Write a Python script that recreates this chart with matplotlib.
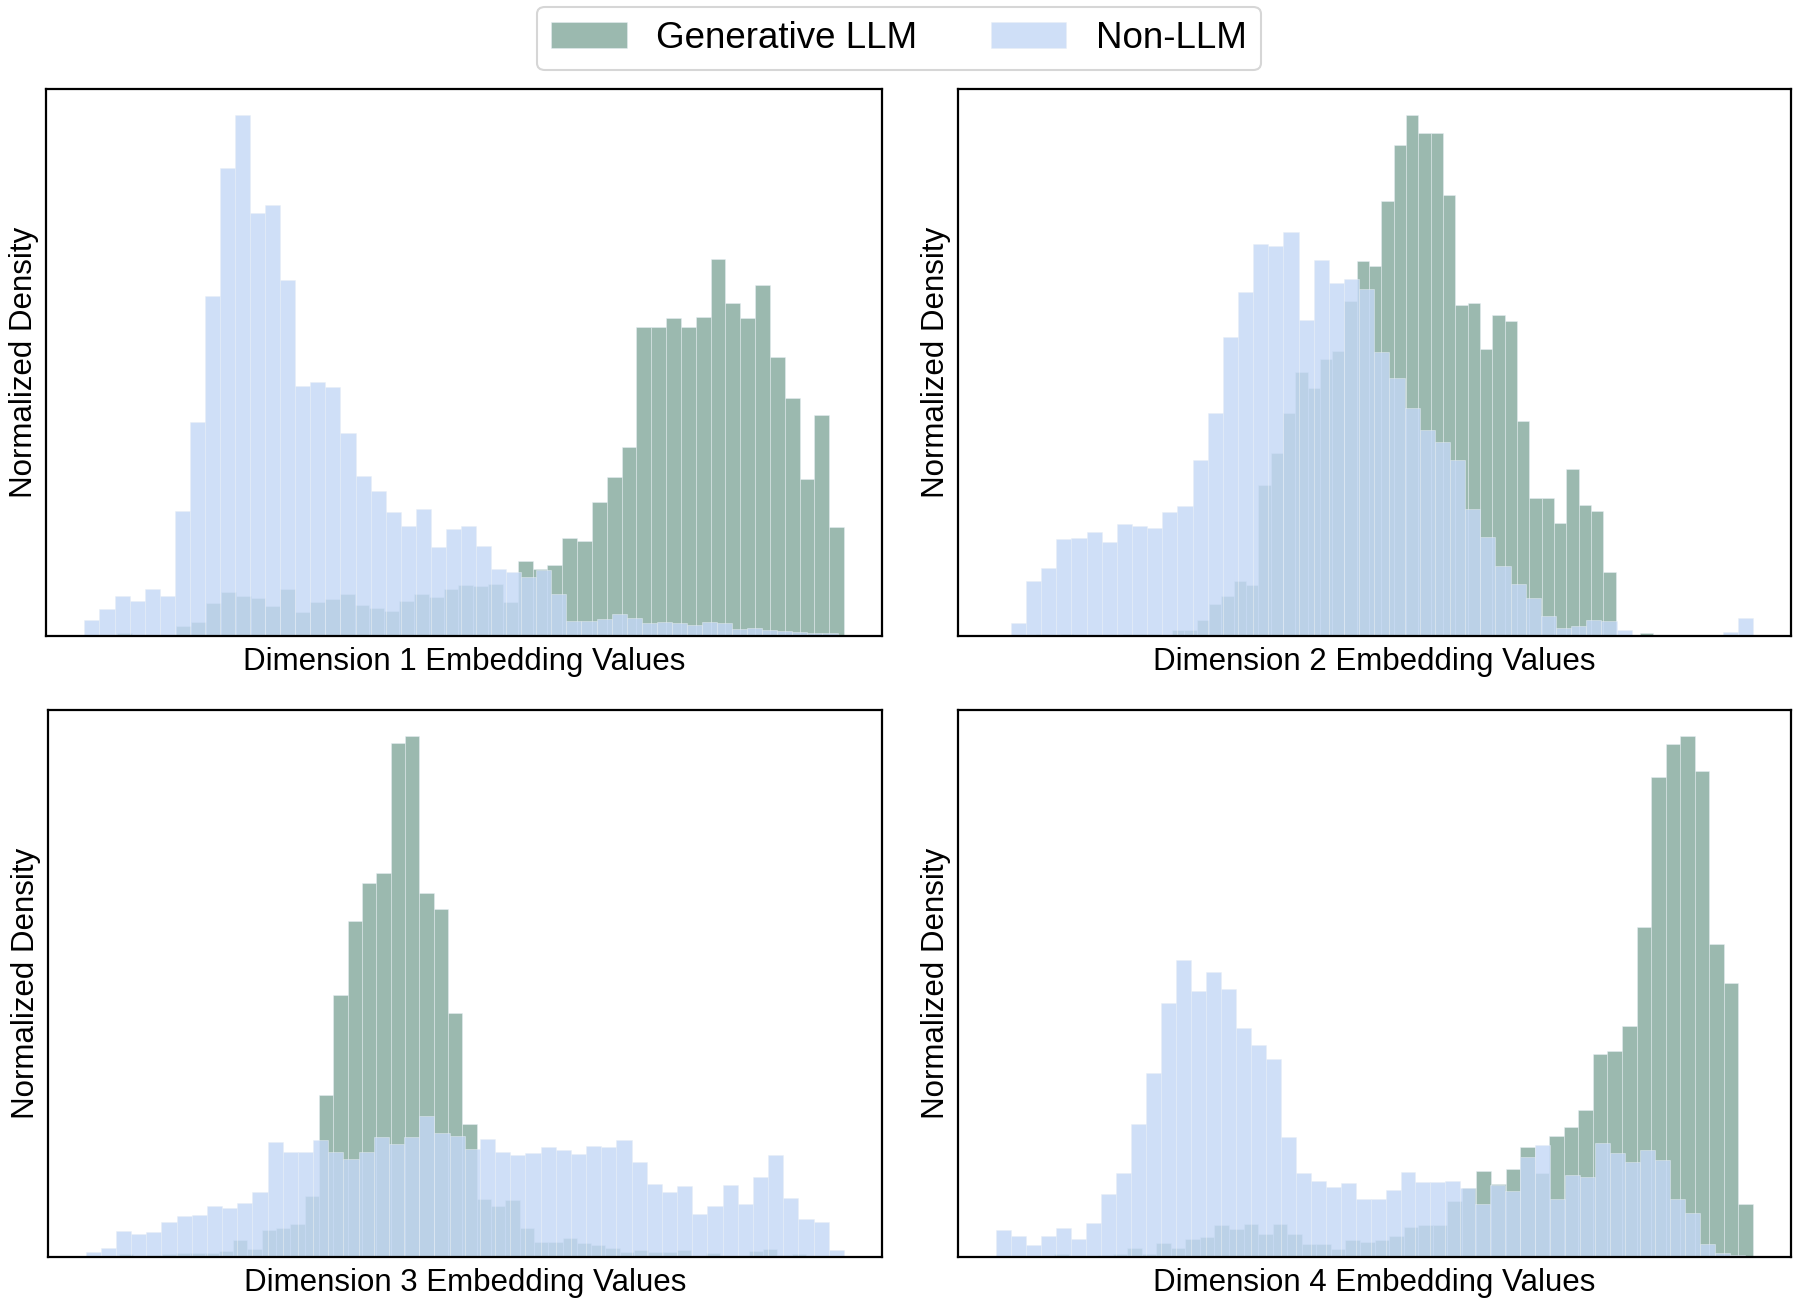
import numpy as np
import matplotlib
matplotlib.use("Agg")
import matplotlib.pyplot as plt

plt.rcParams["font.family"] = ["Liberation Sans", "DejaVu Sans"]

# ------------------------------
# histogram data (50 bins per series, relative density)
# ------------------------------
dim_labels = ["Dimension 1 Embedding Values", "Dimension 2 Embedding Values",
              "Dimension 3 Embedding Values", "Dimension 4 Embedding Values"]

# value range (min, max) covered by each series' bins
llm_range = [(-0.2835, 0.400), (-0.357, 0.294), (-0.346, 0.315), (-0.2265, 0.350)]
non_range = [(-0.300, 0.394), (-0.400, 0.400), (-0.350, 0.350), (-0.250, 0.344)]

llm_d1 = [3, 8, 3, 3, 3, 28, 38, 91, 123, 110, 107, 83, 131, 66, 94, 103, 117, 85, 79, 68,
          98, 117, 109, 131, 141, 138, 146, 94, 210, 188, 198, 273, 266, 375, 444, 529, 863, 863, 889, 863,
          892, 1053, 930, 889, 981, 781, 666, 440, 618, 303]
non_d1 = [45, 75, 110, 98, 131, 112, 350, 597, 952, 1309, 1456, 1183, 1206, 995, 700, 710, 697, 568, 448, 406,
          346, 308, 356, 249, 299, 308, 251, 188, 178, 165, 183, 116, 41, 41, 48, 62, 49, 35, 39, 35,
          30, 39, 35, 19, 23, 16, 13, 11, 9, 7]

llm_d2 = [5, 0, 5, 2, 2, 2, 3, 5, 5, 5, 2, 17, 17, 45, 90, 112, 152, 142, 420, 510,
          621, 738, 693, 773, 794, 935, 1046, 1033, 1213, 1370, 1453, 1404, 1404, 1230, 923, 929, 800, 895, 879, 599,
          385, 385, 315, 465, 364, 348, 179, 0, 0, 8]
non_d2 = [3, 37, 153, 190, 270, 272, 291, 262, 313, 306, 300, 347, 363, 492, 622, 834, 960, 1095, 1089, 1128,
          882, 1048, 985, 996, 969, 793, 720, 637, 574, 541, 492, 353, 277, 195, 145, 105, 55, 23, 26, 44,
          40, 16, 2, 0, 0, 0, 0, 0, 10, 50]

llm_d3 = [3, 2, 7, 3, 4, 7, 10, 10, 10, 15, 45, 22, 73, 80, 90, 170, 450, 728, 934, 1040,
          1068, 1430, 1448, 1012, 967, 678, 370, 160, 142, 158, 80, 40, 40, 53, 37, 32, 25, 13, 18, 13,
          13, 18, 3, 10, 3, 2, 17, 22, 5, 8]
non_d3 = [12, 23, 72, 62, 68, 95, 112, 117, 140, 135, 148, 180, 320, 290, 290, 325, 290, 273, 290, 333,
          313, 333, 392, 345, 337, 300, 328, 292, 282, 288, 305, 298, 285, 307, 304, 325, 264, 202, 180, 196,
          120, 140, 198, 147, 223, 283, 163, 105, 96, 18]

llm_d4 = [2, 3, 8, 3, 2, 5, 7, 25, 8, 37, 25, 48, 54, 87, 78, 90, 62, 92, 62, 35,
          35, 20, 45, 42, 45, 58, 82, 87, 87, 155, 190, 240, 202, 245, 305, 232, 335, 360, 410, 565,
          572, 643, 920, 1336, 1430, 1450, 1353, 870, 763, 147]
non_d4 = [73, 58, 33, 58, 79, 50, 94, 175, 232, 370, 513, 708, 827, 739, 793, 747, 636, 590, 550, 333,
          232, 212, 193, 206, 160, 160, 185, 235, 208, 207, 212, 190, 148, 200, 182, 277, 312, 162, 227, 222,
          318, 290, 264, 296, 268, 160, 122, 35, 10, 5]

llm_all = [llm_d1, llm_d2, llm_d3, llm_d4]
non_all = [non_d1, non_d2, non_d3, non_d4]

LLM_COLOR = "#82a89b"
NON_COLOR = "#c4d8f6"

# axes placement in figure fractions (left, bottom, width, height)
positions = [(0.0258, 0.5132, 0.4642, 0.4183), (0.5321, 0.5132, 0.4628, 0.4183),
             (0.0265, 0.0378, 0.4634, 0.4183), (0.5321, 0.0378, 0.4628, 0.4183)]


def draw_hist(ax, heights, rng, color, label):
    edges = np.linspace(rng[0], rng[1], len(heights) + 1)
    centers = (edges[:-1] + edges[1:]) / 2
    ax.hist(centers, bins=edges, weights=np.array(heights) / 1000.0, color=color,
            alpha=0.8, edgecolor="#e8eef5", linewidth=0.4, label=label)


fig = plt.figure(figsize=(18, 13.06), dpi=100)

for i in range(4):
    ax = fig.add_axes(positions[i])
    draw_hist(ax, llm_all[i], llm_range[i], LLM_COLOR, "Generative LLM")
    draw_hist(ax, non_all[i], non_range[i], NON_COLOR, "Non-LLM")
    ax.set_xticks([])
    ax.set_yticks([])
    ax.set_xlabel(dim_labels[i], fontsize=22.5, labelpad=8)
    ax.set_ylabel("Normalized Density", fontsize=22.5, labelpad=5)
    for s in ax.spines.values():
        s.set_linewidth(1.6)
        s.set_color("black")
    if i == 0:
        handles, labels = ax.get_legend_handles_labels()

leg = fig.legend(handles, labels, loc="upper center", bbox_to_anchor=(0.4995, 0.9946),
                 ncol=2, fontsize=26.5, frameon=True, fancybox=True, borderaxespad=0,
                 handlelength=2.05, handleheight=0.7, handletextpad=0.8,
                 columnspacing=2.0, borderpad=0.38)
leg.get_frame().set_edgecolor("#cccccc")
leg.get_frame().set_linewidth(1.5)

plt.savefig("out.png", dpi=100)
plt.close()
